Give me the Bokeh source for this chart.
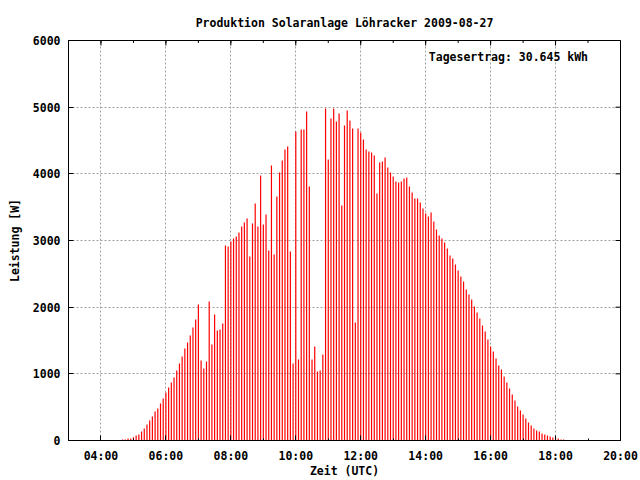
import math
from bokeh.plotting import figure
from bokeh.models import FixedTicker, LinearAxis, Label, Range1d
from bokeh.embed import file_html
from bokeh.resources import INLINE

# ---- data ----
times = [
    "04:40", "04:45", "04:50", "04:55",
    "05:00", "05:05", "05:10", "05:15", "05:20", "05:25", "05:30", "05:35", "05:40", "05:45", "05:50", "05:55",
    "06:00", "06:05", "06:10", "06:15", "06:20", "06:25", "06:30", "06:35", "06:40", "06:45", "06:50", "06:55",
    "07:00", "07:05", "07:10", "07:15", "07:20", "07:25", "07:30", "07:35", "07:40", "07:45", "07:50", "07:55",
    "08:00", "08:05", "08:10", "08:15", "08:20", "08:25", "08:30", "08:35", "08:40", "08:45", "08:50", "08:55",
    "09:00", "09:05", "09:10", "09:15", "09:20", "09:25", "09:30", "09:35", "09:40", "09:45", "09:50", "09:55",
    "10:00", "10:05", "10:10", "10:15", "10:20", "10:25", "10:30", "10:35", "10:40", "10:45", "10:50", "10:55",
    "11:00", "11:05", "11:10", "11:15", "11:20", "11:25", "11:30", "11:35", "11:40", "11:45", "11:50", "11:55",
    "12:00", "12:05", "12:10", "12:15", "12:20", "12:25", "12:30", "12:35", "12:40", "12:45", "12:50", "12:55",
    "13:00", "13:05", "13:10", "13:15", "13:20", "13:25", "13:30", "13:35", "13:40", "13:45", "13:50", "13:55",
    "14:00", "14:05", "14:10", "14:15", "14:20", "14:25", "14:30", "14:35", "14:40", "14:45", "14:50", "14:55",
    "15:00", "15:05", "15:10", "15:15", "15:20", "15:25", "15:30", "15:35", "15:40", "15:45", "15:50", "15:55",
    "16:00", "16:05", "16:10", "16:15", "16:20", "16:25", "16:30", "16:35", "16:40", "16:45", "16:50", "16:55",
    "17:00", "17:05", "17:10", "17:15", "17:20", "17:25", "17:30", "17:35", "17:40", "17:45", "17:50", "17:55",
    "18:00", "18:05", "18:10", "18:15",
]
power_w = [
    15, 15, 30, 30,
    50, 75, 90, 135, 180, 240, 300, 360, 435, 480, 555, 630,
    720, 795, 870, 945, 1050, 1155, 1260, 1380, 1470, 1575, 1695, 1815,
    2040, 1200, 1080, 1185, 2085, 1440, 1890, 1650, 1665, 1755, 2925, 2910,
    2985, 3030, 3060, 3120, 3210, 3270, 3330, 2760, 3255, 3555, 3210, 3975,
    3240, 3390, 2850, 4125, 2790, 3660, 4020, 4200, 4365, 4410, 2835, 1155,
    4635, 1215, 4665, 4665, 4935, 3810, 1215, 1410, 1035, 1050, 1290, 4980,
    4215, 4830, 4980, 4785, 4905, 3525, 4725, 4950, 4800, 4680, 1770, 4680,
    4620, 4515, 4365, 4335, 4320, 4275, 3705, 4170, 4185, 4245, 4095, 4020,
    3960, 3885, 3870, 3885, 3930, 3945, 3810, 3720, 3630, 3630, 3570, 3480,
    3405, 3360, 3420, 3285, 3165, 3075, 3030, 2970, 2880, 2775, 2730, 2640,
    2550, 2460, 2385, 2265, 2190, 2115, 2010, 1920, 1830, 1725, 1635, 1515,
    1410, 1335, 1230, 1125, 1065, 960, 870, 780, 690, 600, 510, 450,
    390, 330, 270, 225, 180, 150, 135, 105, 90, 75, 60, 45,
    40, 30, 15, 15,
]
x_tick_hours = [4, 6, 8, 10, 12, 14, 16, 18, 20]
x_tick_labels = ["04:00", "06:00", "08:00", "10:00", "12:00", "14:00", "16:00", "18:00", "20:00"]
x_minor_hours = [3, 4, 5, 6, 7, 8, 9, 10, 11, 12, 13, 14, 15, 16, 17, 18, 19, 20]
y_ticks = [0, 1000, 2000, 3000, 4000, 5000, 6000]
x_min, x_max = 3, 20
y_min, y_max = 0, 6000

title_text = "Produktion Solaranlage Löhracker 2009-08-27"
x_title = "Zeit (UTC)"
y_title = "Leistung [W]"
yield_text = "Tagesertrag: 30.645 kWh"


def to_hours(s):
    h, m = s.split(":")
    return int(h) + int(m) / 60.0


x_hours = [to_hours(t) for t in times]

FONT = "DejaVu Sans Mono"
FSIZE = "11.5px"

p = figure(
    width=640, height=480,
    x_range=Range1d(x_min, x_max), y_range=Range1d(y_min, y_max),
    output_backend="svg", toolbar_location=None,
    min_border_left=68, min_border_right=20,
    min_border_top=40, min_border_bottom=40,
    x_axis_location=None, y_axis_location=None,
)
p.background_fill_color = "white"
p.border_fill_color = "white"
p.outline_line_color = "black"
p.outline_line_width = 1

p.title.text = title_text
p.title.align = "center"
p.title.text_font = FONT
p.title.text_font_size = FSIZE
p.title.text_font_style = "bold"
p.title.text_color = "black"
p.title.standoff = 21

xticker = FixedTicker(ticks=x_tick_hours, minor_ticks=x_minor_hours)
yticker = FixedTicker(ticks=y_ticks, minor_ticks=[])

labels_map = {h: lab for h, lab in zip(x_tick_hours, x_tick_labels)}


def style_axis(ax):
    ax.axis_line_color = "black"
    ax.major_tick_in = 5
    ax.major_tick_out = 0
    ax.minor_tick_in = 0
    ax.minor_tick_out = 0
    ax.major_tick_line_color = "black"
    ax.minor_tick_line_color = "black"
    ax.major_label_text_font = FONT
    ax.major_label_text_font_style = "bold"
    ax.major_label_text_font_size = FSIZE
    ax.major_label_text_color = "black"
    ax.axis_label_text_font = FONT
    ax.axis_label_text_font_style = "bold"
    ax.axis_label_text_font_size = FSIZE
    ax.axis_label_text_color = "black"


xb = LinearAxis(ticker=xticker, major_label_overrides=labels_map)
style_axis(xb)
xb.minor_tick_in = 2
xb.major_label_standoff = 8
xb.axis_label = x_title
xb.axis_label_standoff = -2
p.add_layout(xb, "below")

yl = LinearAxis(ticker=yticker)
style_axis(yl)
yl.major_label_standoff = 8
yl.axis_label = y_title
yl.axis_label_standoff = 8
p.add_layout(yl, "left")

p.xgrid.ticker = xticker
p.ygrid.ticker = yticker
for g in (p.xgrid, p.ygrid):
    g.grid_line_color = "#a0a0a0"
    g.grid_line_dash = "2 2"
    g.grid_line_width = 1

# power impulses
p.segment(x0=x_hours, y0=0, x1=x_hours, y1=power_w,
          line_color="#ff0000", line_width=1.2)

# mirrored ticks on top and right border (half of each dash is clipped by the frame)
p.scatter(x=x_tick_hours, y=[y_max] * len(x_tick_hours), marker="dash",
          size=10, angle=math.pi / 2, line_color="black", line_width=1)
p.scatter(x=x_minor_hours, y=[y_max] * len(x_minor_hours), marker="dash",
          size=5, angle=math.pi / 2, line_color="black", line_width=1)
p.scatter(x=[x_max] * len(y_ticks), y=y_ticks, marker="dash",
          size=10, line_color="black", line_width=1)

p.add_layout(Label(x=19, y=5760, text=yield_text, text_align="right",
                   text_baseline="middle", text_font=FONT,
                   text_font_size=FSIZE, text_font_style="bold",
                   text_color="black"))

open("out.html", "w").write(file_html(p, INLINE))
